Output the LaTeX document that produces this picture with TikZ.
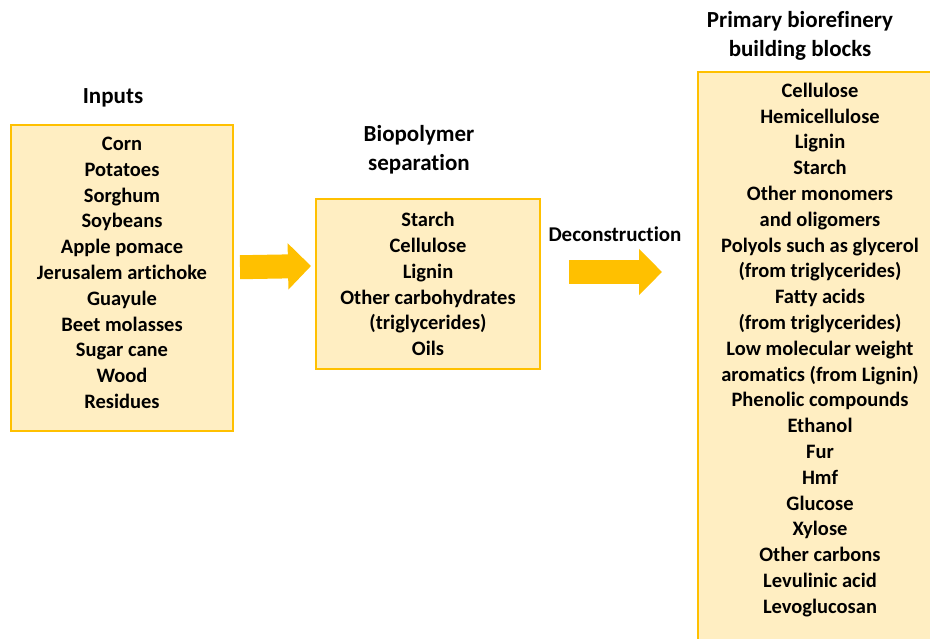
\documentclass[tikz,border=0pt]{standalone}
\usepackage{fontspec}
\setmainfont[Ligatures=NoCommon]{Carlito}
\usepackage{tikz}
\usetikzlibrary{arrows.meta,calc,positioning}
\definecolor{myorange}{RGB}{255, 192, 0}
\definecolor{myyellow}{RGB}{255, 238, 194}

\begin{document}
\begin{tikzpicture}[x=1pt,y=-1pt]

\tikzstyle{yellow-b} = [draw=myorange, line width=2, fill=myyellow, align=center,
font=\bfseries\fontsize{20.5}{25.8}\selectfont]
\tikzstyle{title} = [align=center, font=\bfseries\fontsize{23}{29}\selectfont]
\tikzstyle{big-arrow} = [draw=myorange, line width=24, -{Triangle[length=23pt,width=45pt]}]

\useasboundingbox (0,0) rectangle (930,639);
\clip (0,0) rectangle (930,639);

% inputs
\node [title] (in-t) at (113,98) {Inputs};
\node [yellow-b, anchor=north, minimum width=222, inner ysep=12, text depth=11pt] (in) at (122,124)
{Corn\\ Potatoes\\ Sorghum\\ Soybeans\\ Apple pomace\\ Jerusalem artichoke\\
Guayule\\ Beet molasses\\ Sugar cane\\ Wood\\ Residues};

% separation
\node [title] (sep-t) at (419,150) {Biopolymer\\ separation};
\node [yellow-b, minimum width=224, minimum height=170] (sep) at (428,284)
{Starch\\ Cellulose\\ Lignin\\ Other carbohydrates\\ (triglycerides)\\ Oils};

% building blocks
\node [title] (bb-t) at (800,36) {Primary biorefinery\\ building blocks};
\node [yellow-b, anchor=north, minimum width=244, inner ysep=11, text depth=80pt] (bb) at (820,71)
{Cellulose\\ Hemicellulose\\ Lignin\\ Starch\\ Other monomers\\ and oligomers\\
Polyols such as glycerol\\ (from triglycerides)\\ Fatty acids\\ (from triglycerides)\\
Low molecular weight\\ aromatics (from Lignin)\\ Phenolic compounds\\ Ethanol\\ Fur\\
Hmf\\ Glucose\\ Xylose\\ Other carbons\\ Levulinic acid\\ Levoglucosan};

\node [title, font=\bfseries\fontsize{21}{25}\selectfont] (dec) at (615,234) {Deconstruction};

% arrows
\draw [big-arrow] ($(in.east)+(6,-11)$) -- ($(sep.west)+(-4,-18)$);
\draw [big-arrow] ($(sep.east)+(28,-12)$) -- ($(sep.east -| bb.west)+(-35,-12)$);

\end{tikzpicture}
\end{document}
